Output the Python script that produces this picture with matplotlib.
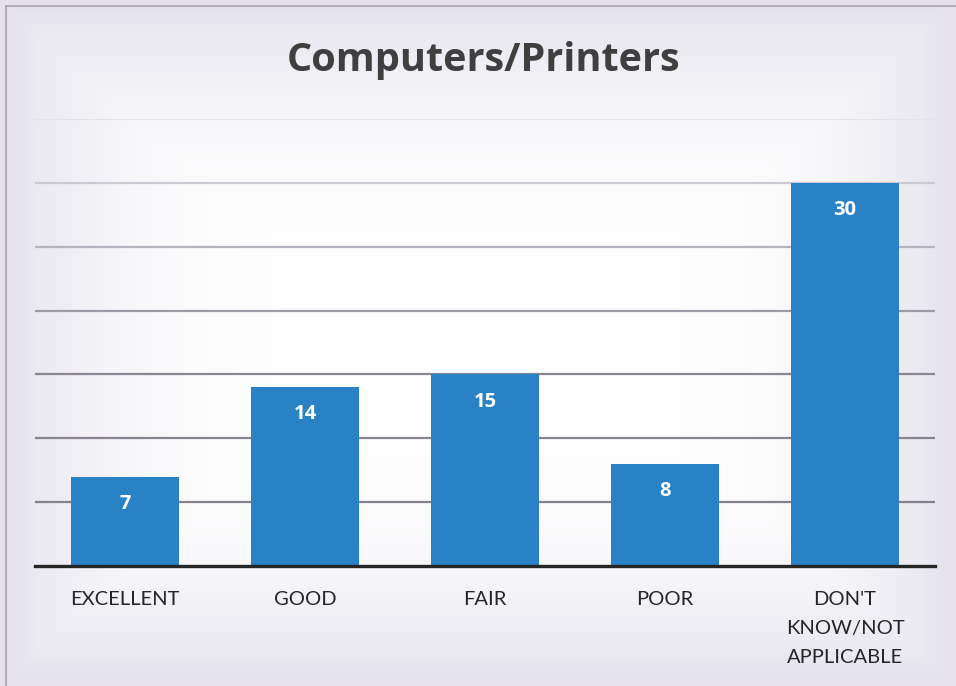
import numpy as np
import matplotlib
matplotlib.use("Agg")
import matplotlib.pyplot as plt
from matplotlib.lines import Line2D

categories = ["EXCELLENT", "GOOD", "FAIR", "POOR", "DON'T\nKNOW/NOT\nAPPLICABLE"]
counts = [7, 14, 15, 8, 30]
grid_levels = [5, 10, 15, 20, 25, 30, 35]
grid_colors = ["#85808c", "#88838f", "#8b8692", "#9e9aa6", "#b6b2be", "#cdc9d3", "#e4e1e8"]

W, H, DPI = 956, 686, 100
fig = plt.figure(figsize=(W / DPI, H / DPI), dpi=DPI)
fig.patch.set_facecolor("white")

# paper background: white centre fading to a lavender grey at the edges
bg = fig.add_axes([0, 0, 1, 1], zorder=-10)
yy, xx = np.mgrid[0:H, 0:W]
dx = np.abs(xx - W / 2) / (W / 2)
dy = np.abs(yy - H / 2) / (H / 2)
d = np.clip(np.maximum(dx ** 4, dy ** 3) * 1.1, 0, 1)
white = np.array([1.0, 1.0, 1.0])
edge = np.array([0.90, 0.89, 0.93])
img = white[None, None, :] * (1 - d[..., None]) + edge[None, None, :] * d[..., None]
bg.imshow(img, extent=[0, 1, 0, 1], aspect="auto", origin="upper")
bg.set_xlim(0, 1)
bg.set_ylim(0, 1)
bg.axis("off")
# thin edge lines on the left and top
fig.add_artist(Line2D([6 / W, 6 / W], [0, 1 - 6 / H], color="#a8a4b0", lw=1.2))
fig.add_artist(Line2D([6 / W, 1], [1 - 6 / H, 1 - 6 / H], color="#a8a4b0", lw=1.2))

ax = fig.add_axes([35 / W, 120 / H, 900 / W, 447 / H])
ax.patch.set_alpha(0)
x = np.arange(len(categories))
for lvl, c in zip(grid_levels, grid_colors):
    ax.axhline(lvl, color=c, lw=1.6, zorder=1)

bars = ax.bar(x, counts, width=0.6, color="#2a82c6", zorder=2)
for xi, v in zip(x, counts):
    ax.annotate(str(v), xy=(xi, v), xytext=(0, -19.5), textcoords="offset points",
                ha="center", va="center", color="white", fontsize=14.5,
                fontweight="bold", family="Open Sans", zorder=3)

ax.set_xlim(-0.5, len(categories) - 0.5)
ax.set_ylim(0, 35)
ax.set_yticks([])
ax.set_xticks(x)
ax.set_xticklabels(categories, family="Lato", fontsize=14.5, color="#262626",
                   linespacing=1.85)
ax.tick_params(axis="x", length=0, pad=18)
for s in ["top", "right", "left"]:
    ax.spines[s].set_visible(False)
ax.spines["bottom"].set_color("#262626")
ax.spines["bottom"].set_linewidth(2.4)
ax.spines["bottom"].set_zorder(4)

fig.text(484 / W, 1 - 61 / H, "Computers/Printers", ha="center", va="center",
         fontsize=28.5, fontweight="bold", family="Open Sans", color="#3f3f3f")

fig.savefig("out.png", dpi=DPI)
